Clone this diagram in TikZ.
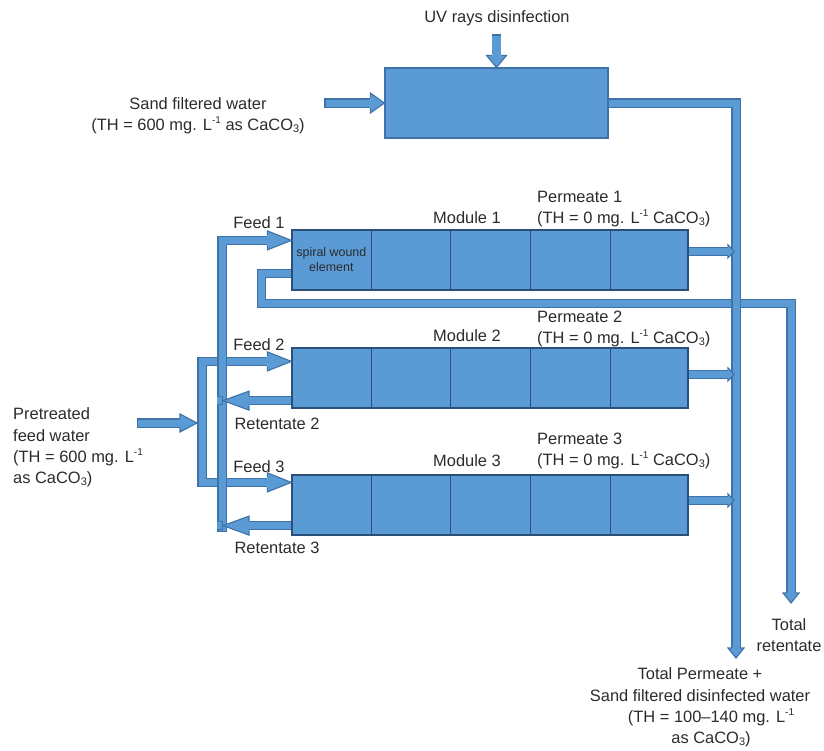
\documentclass[tikz,border=0pt]{standalone}
\usepackage{fontspec}
\setmainfont{Liberation Sans}
\usetikzlibrary{calc}
\definecolor{fillc}{HTML}{5B9BD5}
\definecolor{edgec}{HTML}{3F72A6}
\definecolor{divc}{HTML}{2A4F78}
\definecolor{txtc}{HTML}{2B2B2B}
\pgfdeclarelayer{pipes}
\pgfsetlayers{pipes,main}
\newcommand\ahead[4]{%
  \fill[fillc,shift={(#1)},rotate=#2] (0,0) -- (-#3,-#4) -- (-#3,-3.5) -- (-#3-3,-3.5) -- (-#3-3,3.5) -- (-#3,3.5) -- (-#3,#4) -- cycle;
  \draw[edgec,line width=1.1bp,line join=miter,shift={(#1)},rotate=#2] (-#3,-4.7) -- (-#3,-#4) -- (0,0) -- (-#3,#4) -- (-#3,4.7);}
\newcommand\supm{\raisebox{0.42em}{\fontsize{10}{10}\selectfont -1}}
\newcommand\cacoo{CaCO\raisebox{-0.1em}{\fontsize{11}{11}\selectfont 3}}
\begin{document}
\begin{tikzpicture}[x=1bp,y=-1bp,
  lbl/.style={font=\fontsize{16.5}{21.5}\selectfont, text=txtc, inner sep=0pt, align=center},
  unit/.style={draw=edgec, fill=fillc, line width=1.2bp, inner sep=0pt, minimum width=223bp, minimum height=70bp},
  module/.style={draw=divc, fill=fillc, line width=1.2bp, inner sep=0pt, minimum width=396bp, minimum height=60bp},
  pipe/.style={draw=fillc, line width=7bp, line join=miter, line cap=butt,
     preaction={draw=edgec, line width=9.4bp, shorten <=0pt, shorten >=0pt}},
  capped/.style={shorten <=1.2bp},
]
\useasboundingbox (0,0) rectangle (824,751);

% units
\node[unit] (uv) at (496.5,103) {};
\node[module] (m1) at (490,260) {};
\node[module] (m2) at (490,378) {};
\node[module] (m3) at (490,505) {};
\foreach \m in {m1,m2,m3}{
  \foreach \d in {80,159,239,319}{
    \draw[divc,line width=1.2bp] ($(\m.north west)+(\d,0)$) -- ($(\m.south west)+(\d,0)$);
  }
}
\node[font=\fontsize{12.5}{15}\selectfont, text=txtc, align=center, inner sep=0pt] (sw) at ($(m1.west)+(40,0)$) {spiral wound\\element};

% coordinates
\coordinate (uvin) at ($(uv.north)+(0,-33)$);
\coordinate (sandin) at ($(uv.west)+(-60,0)$);
\coordinate (pv) at (736,658);
\coordinate (tr) at (791,603);
\coordinate (f1t) at ($(m1.north west)+(0,11)$);
\coordinate (f2t) at ($(m2.north west)+(0,14)$);
\coordinate (f3t) at ($(m3.north west)+(0,8)$);
\coordinate (fr) at (222,532);
\coordinate (pm) at (202,423);
\coordinate (pin) at (137,423);
\coordinate (pt) at ($(pm)+(-5,0)$);
\coordinate (r1s) at ($(m1.south west)+(0,-17)$);
\coordinate (r2s) at ($(m2.south west)+(0,-8)$);
\coordinate (r3s) at ($(m3.south west)+(0,-10)$);
\coordinate (r2t) at ($(fr |- r2s)+(1,0)$);
\coordinate (r3t) at ($(fr |- r3s)+(1,0)$);
\coordinate (r2e) at ($(fr |- r2s)+(-4.7,0)$);
\coordinate (r3e) at ($(fr |- r3s)+(-4.7,0)$);
\coordinate (p1s) at ($(m1.north east)+(0,22)$);
\coordinate (p2s) at ($(m2.north east)+(0,27)$);
\coordinate (p3s) at ($(m3.north east)+(0,26)$);
\coordinate (p1t) at ($(pv |- p1s)+(-2,0)$);
\coordinate (p2t) at ($(pv |- p2s)+(-2,0)$);
\coordinate (p3t) at ($(pv |- p3s)+(-2,0)$);

% pipes
\begin{pgfonlayer}{pipes}
\draw[pipe,capped,line width=9bp,preaction={line width=11.4bp}] (uvin) -- ($(uv.north)+(0,-12)$);
\draw[pipe,capped] (sandin) -- ($(uv.west)+(-14,0)$);
\draw[pipe,capped] (pin) -- ($(pt)+(-17,0)$);
\draw[pipe] (r1s) -- ++(-30,0) -- ++(0,30) -| ($(tr)+(0,-10)$);
\draw[pipe] (p1s) -- ($(p1t)+(-6,0)$);
\draw[pipe] (p2s) -- ($(p2t)+(-6,0)$);
\draw[pipe] (p3s) -- ($(p3t)+(-6,0)$);
\draw[pipe] (uv.east) -| ($(pv)+(0,-10)$);
\draw[pipe] ($(f2t)+(-24,0)$) -| (pm) |- ($(f3t)+(-24,0)$);
\draw[pipe,capped] (fr) |- ($(f1t)+(-24,0)$);
\draw[pipe] ($(r2t)+(26,0)$) -- (r2s);
\draw[pipe] ($(r3t)+(26,0)$) -- (r3s);
\end{pgfonlayer}
% retentate stubs entering the collector
\draw[pipe,capped] (r2t) -- (r2e);
\draw[pipe,capped] (r3t) -- (r3e);

% heads
\ahead{uv.north}{-90}{12}{10}
\ahead{uv.west}{0}{14}{10}
\ahead{pt}{0}{17}{9}
\ahead{f1t}{0}{24}{9.5}
\ahead{f2t}{0}{24}{9.5}
\ahead{f3t}{0}{24}{9.5}
\ahead{r2t}{180}{26}{9.5}
\ahead{r3t}{180}{26}{9.5}
\ahead{p1t}{0}{6}{6.5}
\ahead{p2t}{0}{6}{6.5}
\ahead{p3t}{0}{6}{6.5}
\ahead{pv}{-90}{10}{8}
\ahead{tr}{-90}{10}{8}

% labels
\node[lbl] (uvl) at (497,18) {UV rays disinfection};
\node[lbl] (sandl) at (198,115.5) {Sand filtered water\\(TH = 600 mg. L\supm{} as \cacoo)};
\node[lbl] (f1l) at (259,223) {Feed 1};
\node[lbl] (f2l) at (259,345) {Feed 2};
\node[lbl] (f3l) at (259,467) {Feed 3};
\node[lbl] (m1l) at (467,218) {Module 1};
\node[lbl] (m2l) at (467,336) {Module 2};
\node[lbl] (m3l) at (467,461) {Module 3};
\node[lbl,align=left,anchor=west] (p1l) at (537,209) {Permeate 1\\(TH = 0 mg. L\supm{} \cacoo)};
\node[lbl,align=left,anchor=west] (p2l) at (537,329) {Permeate 2\\(TH = 0 mg. L\supm{} \cacoo)};
\node[lbl,align=left,anchor=west] (p3l) at (537,451) {Permeate 3\\(TH = 0 mg. L\supm{} \cacoo)};
\node[lbl] (r2l) at (277,424) {Retentate 2};
\node[lbl] (r3l) at (277,548) {Retentate 3};
\node[lbl,align=left,anchor=west] (ptl) at (13,447.5) {Pretreated\\feed water\\(TH = 600 mg. L\supm\\as \cacoo)};
\node[lbl] (trl) at (789,635) {Total\\retentate};
\node[lbl] (tpl) at (700,707.5) {Total Permeate +\\Sand filtered disinfected water\\\hspace*{22bp}(TH = 100–140 mg. L\supm\\\hspace*{22bp}as \cacoo)};
\end{tikzpicture}
\end{document}
